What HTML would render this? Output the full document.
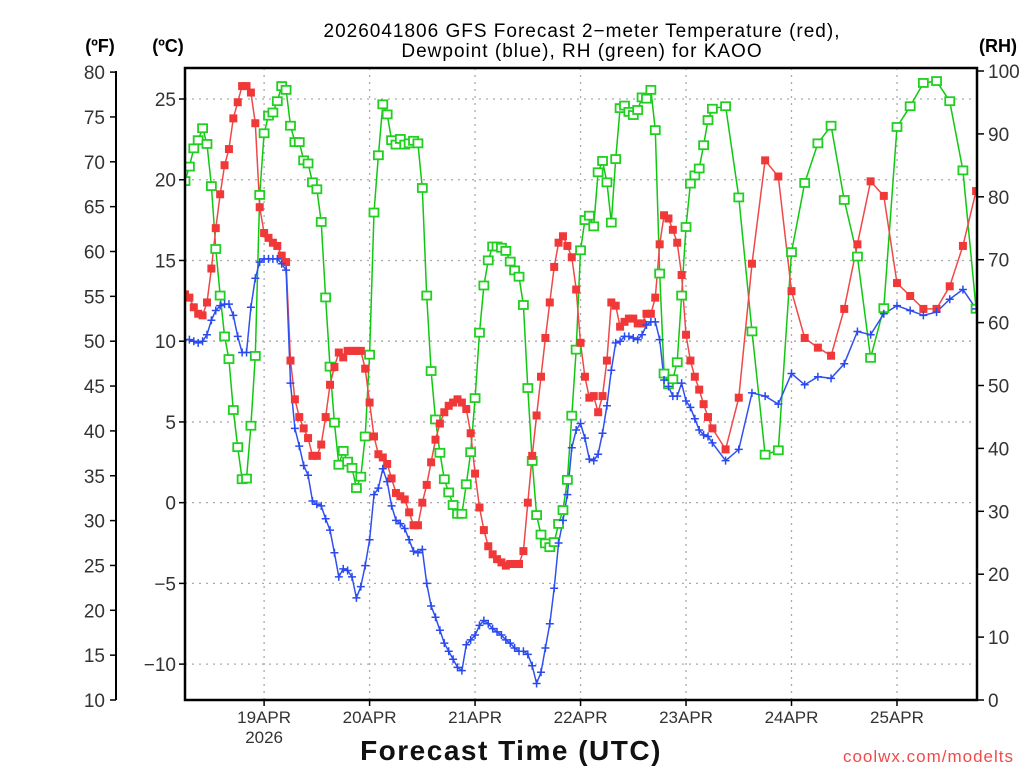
<!DOCTYPE html>
<html><head><meta charset="utf-8"><style>
html,body{margin:0;padding:0;background:#fff;}
svg{display:block;font-family:"Liberation Sans","DejaVu Sans",sans-serif;}
</style></head><body>
<svg id="chart" width="1024" height="768" viewBox="0 0 1024 768" xmlns="http://www.w3.org/2000/svg">
<rect width="1024" height="768" fill="#fff"/>
<g id="grid"></g>
<g id="series"></g>
<rect x="185" y="68" width="792" height="632" fill="none" stroke="#000" stroke-width="2.5"/>
<line x1="116" y1="71" x2="116" y2="700" stroke="#000" stroke-width="2"/>
<g id="axes"></g>
<text x="582" y="37" font-size="19" text-anchor="middle" fill="#000" letter-spacing="1">2026041806 GFS Forecast 2−meter Temperature (red),</text>
<text x="582" y="57" font-size="19" text-anchor="middle" fill="#000" letter-spacing="1">Dewpoint (blue), RH (green) for KAOO</text>
<text x="100" y="52" font-size="18" font-weight="bold" text-anchor="middle">(ºF)</text>
<text x="168" y="52" font-size="18" font-weight="bold" text-anchor="middle">(ºC)</text>
<text x="998" y="52" font-size="18" font-weight="bold" text-anchor="middle">(RH)</text>
<text x="511" y="760" font-size="28" font-weight="bold" text-anchor="middle" letter-spacing="1.5" fill="#111">Forecast Time (UTC)</text>
<text x="1014" y="762" font-size="17" text-anchor="end" fill="#f04a4a" letter-spacing="1">coolwx.com/modelts</text>
</svg>
<script>
const tempC = [12.9,12.7,12.1,11.7,11.6,12.4,14.5,17.0,19.1,20.9,21.9,23.8,24.8,25.8,25.8,25.4,23.5,18.3,16.7,16.4,16.1,15.9,15.3,14.9,8.8,6.4,5.3,4.6,4.0,2.9,2.9,3.6,5.3,7.3,8.4,9.3,9.0,9.4,9.4,9.4,9.4,8.3,6.2,4.1,3.0,2.8,
2.4,1.5,0.6,0.4,0.2,-0.6,-1.4,-1.4,0.0,1.1,2.5,3.9,4.9,5.6,6.0,6.2,6.4,6.2,5.8,4.3,1.8,-0.3,-1.7,-2.7,-3.2,-3.5,-3.7,-3.9,-3.8,-3.8,-3.8,-3.0,0.0,2.9,5.4,7.8,10.2,12.4,14.6,16.1,16.5,15.9,15.2,13.2,
9.9,7.8,6.5,6.6,5.6,6.6,8.8,12.4,12.2,10.9,11.2,11.4,11.4,11.1,11.1,11.7,11.7,12.7,16.0,17.8,17.6,16.9,16.1,14.1,10.4,8.8,7.8,7.0,6.1,5.3,4.6,
3.3,6.5,14.8,21.2,20.2,13.1,10.2,9.6,9.1,12.0,16.0,19.9,19.0,13.6,12.8,12.0,12.0,13.4,15.9,19.3];
const dewC = [10.1,10.1,10.0,9.9,10.0,10.4,11.3,11.9,12.2,12.3,12.3,11.6,10.3,9.3,9.3,12.1,13.9,14.9,15.1,15.1,15.1,15.1,14.8,14.4,7.4,4.6,3.5,2.3,1.7,0.1,-0.1,-0.2,-1.0,-1.7,-3.1,-4.6,-4.1,-4.2,-4.6,-5.9,-5.2,-3.9,-2.3,0.5,0.9,2.1,
1.3,-0.2,-1.1,-1.3,-1.6,-2.3,-3.0,-3.1,-2.9,-5.0,-6.4,-7.1,-7.9,-8.7,-9.2,-9.7,-10.2,-10.4,-8.8,-8.5,-8.2,-7.6,-7.3,-7.5,-7.8,-8.0,-8.2,-8.5,-8.7,-9.0,-9.2,-9.2,-9.4,-10.1,-11.2,-10.5,-9.0,-7.5,-5.3,-2.5,-1.1,0.5,3.4,4.5,
4.9,4.0,2.7,2.6,3.0,4.3,6.0,8.2,9.9,10.0,10.3,10.3,10.2,10.1,10.4,11.0,11.2,11.2,10.1,7.6,7.2,6.6,6.6,7.4,6.3,5.9,5.2,4.5,4.2,4.1,3.7,
2.6,3.3,6.8,6.6,6.1,8.0,7.3,7.8,7.7,8.6,10.6,10.4,11.7,12.2,11.9,11.6,11.8,12.6,13.2,12.0];
const rhPct = [82.5,84.8,87.7,89.0,90.9,88.4,81.7,71.7,64.3,57.8,54.2,46.1,40.2,35.1,35.2,43.6,54.7,80.3,90.1,92.9,93.4,95.2,97.6,97.0,91.3,88.7,88.7,85.8,85.3,82.3,81.2,76.0,64.0,53.0,44.1,37.4,39.6,37.9,36.9,33.7,35.5,41.9,54.9,77.5,86.6,94.7,
93.1,89.0,88.3,89.2,88.3,88.5,88.9,88.5,81.4,64.3,52.3,44.6,39.3,35.1,33.0,31.0,29.6,29.6,34.3,39.4,48.0,58.4,65.9,69.9,72.1,72.1,71.9,71.4,69.7,68.3,67.3,62.8,49.6,38.0,29.4,26.3,24.9,24.3,25.1,28.0,30.2,35.0,45.2,55.7,
71.5,76.3,77.0,75.3,83.9,85.7,82.3,75.9,86.0,94.1,94.5,93.5,93.0,93.8,95.8,95.6,97.0,90.6,67.8,51.9,50.2,51.0,53.7,64.3,75.2,82.1,83.4,84.5,88.2,92.2,94.0,
94.4,79.9,58.6,39.0,39.7,71.2,82.2,88.5,91.3,79.5,70.5,54.4,62.3,91.1,94.4,98.1,98.4,95.2,84.2,62.2];
const fTicks = [10,15,20,25,30,35,40,45,50,55,60,65,70,75,80];
const cTicks = [-10,-5,0,5,10,15,20,25];
const rhTicks = [0,10,20,30,40,50,60,70,80,90,100];
const dayLabels = ['19APR','20APR','21APR','22APR','23APR','24APR','25APR'];
const dayHours = [18,42,66,90,114,138,162];

const NS='http://www.w3.org/2000/svg';
const hours=[];
for(let i=0;i<tempC.length;i++){hours.push(i<=120?i:120+(i-120)*3);}
const X0=185, PXH=4.395;
function xH(h){return X0+h*PXH;}
function yF(f){return 700-(f-10)*8.97;}
function yC(c){return yF(c*1.8+32);}
function yRH(r){return 700-r*6.29;}
function mk(tag,attrs,parent){const e=document.createElementNS(NS,tag);for(const k in attrs)e.setAttribute(k,attrs[k]);parent.appendChild(e);return e;}
const grid=document.getElementById('grid'), axes=document.getElementById('axes'), ser=document.getElementById('series');

cTicks.forEach(c=>{const y=yC(c);
  const g=mk('line',{x1:185,x2:977,y1:y,y2:y,stroke:'#aaa','stroke-width':1.3,'stroke-dasharray':'2,5'},grid);
  
  
  const t=mk('line',{x1:179,x2:185,y1:y,y2:y,stroke:'#000','stroke-width':1.5},axes);
  
  
  const l=mk('text',{x:176,y:y+7,'font-size':19,'text-anchor':'end',fill:'#333'},axes);
  l.textContent=(c<0?'−':'')+Math.abs(c);
  
  
});
fTicks.forEach(f=>{const y=yF(f);
  const t=mk('line',{x1:110,x2:116,y1:y,y2:y,stroke:'#000','stroke-width':1.5},axes);
  
  
  const l=mk('text',{x:105,y:y+7,'font-size':19,'text-anchor':'end',fill:'#333'},axes);
  l.textContent=f;
  
  
});
rhTicks.forEach(r=>{const y=yRH(r);
  const t=mk('line',{x1:977,x2:984,y1:y,y2:y,stroke:'#000','stroke-width':1.5},axes);
  
  
  const l=mk('text',{x:988,y:y+7,'font-size':19,'text-anchor':'start',fill:'#333'},axes);
  l.textContent=r;
  
  
});
dayHours.forEach((h,i)=>{const x=xH(h);
  const g=mk('line',{x1:x,x2:x,y1:68,y2:700,stroke:'#aaa','stroke-width':1.3,'stroke-dasharray':'2,5'},grid);
  
  
  const t=mk('line',{x1:x,x2:x,y1:700,y2:706,stroke:'#000','stroke-width':1.5},axes);
  
  
  const l=mk('text',{x:x,y:723,'font-size':17,'text-anchor':'middle',fill:'#333'},axes);
  l.textContent=dayLabels[i];
  
  
});
const yr=mk('text',{x:xH(18),y:743,'font-size':17,'text-anchor':'middle',fill:'#333'},axes);
yr.textContent='2026';



function drawLine(vals,yf,color,name){
  const pts=vals.map((v,i)=>xH(hours[i]).toFixed(1)+','+yf(v).toFixed(1)).join(' ');
  const p=mk('polyline',{points:pts,fill:'none',stroke:color,'stroke-width':1.5},ser);
  
  
}
const clip=mk('clipPath',{id:'pc'},document.getElementById('chart'));
mk('rect',{x:185,y:68,width:792,height:632},clip);
ser.setAttribute('clip-path','url(#pc)');

drawLine(rhPct,yRH,'#10c810','rh-line');
drawLine(tempC,yC,'#f04848','temperature-line');
drawLine(dewC,yC,'#3050f0','dewpoint-line');
rhPct.forEach((v,i)=>{const m=mk('rect',{x:xH(hours[i])-4.5,y:yRH(v)-4,width:9,height:8,fill:'#fff',stroke:'#20d020','stroke-width':1.8},ser);
  
  });
tempC.forEach((v,i)=>{const m=mk('rect',{x:xH(hours[i])-4,y:yC(v)-4,width:8,height:8,fill:'#f03838'},ser);
  
  });
dewC.forEach((v,i)=>{const x=xH(hours[i]),y=yC(v);
  const m=mk('path',{d:`M${x-4},${y}H${x+4}M${x},${y-4}V${y+4}`,stroke:'#2a4af0','stroke-width':1.5,fill:'none'},ser);
  
  });
</script>
</body></html>
